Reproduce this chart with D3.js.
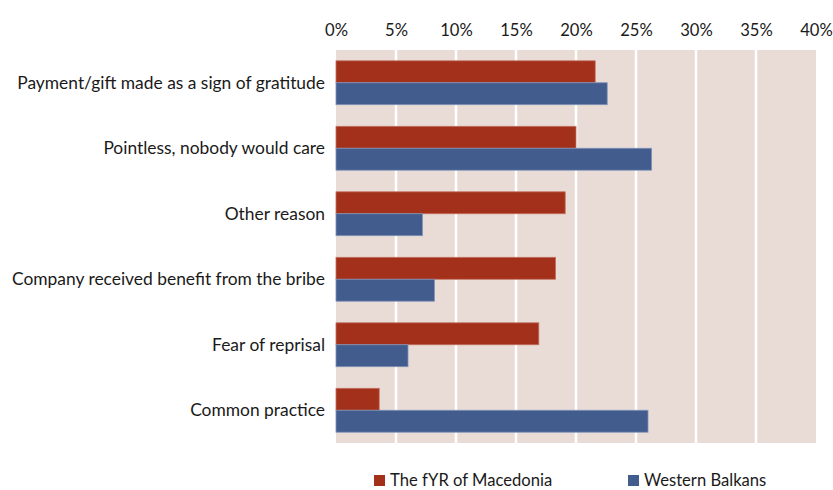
<!DOCTYPE html>
<html>
<head>
<meta charset="utf-8">
<script src="https://cdn.jsdelivr.net/npm/d3@7"></script>
<style>
body{margin:0;background:#fff;}
text{font-family:Lato,"Open Sans",sans-serif;fill:#1a1a1a;}
</style>
</head>
<body>
<div id="chart"></div>
<script>
var categories=["Payment/gift made as a sign of gratitude","Pointless, nobody would care","Other reason","Company received benefit from the bribe","Fear of reprisal","Common practice"];
var seriesNames=["The fYR of Macedonia","Western Balkans"];
var macedonia=[21.6,20.0,19.1,18.3,16.9,3.6];
var westernBalkans=[22.6,26.3,7.2,8.2,6.0,26.0];
var ticks=[0,5,10,15,20,25,30,35,40];
var colors=["#A3301A","#425C8E"];

var chartW=833,chartH=490;
var plotLeft=336,plotRight=816,plotTop=50,plotBottom=443;
var fontSize="16.6px";

var svg=d3.select("#chart").append("svg")
	.attr("width",chartW)
	.attr("height",chartH);

var x=d3.scaleLinear().domain([0,40]).range([plotLeft,plotRight]);
var y=d3.scaleBand().domain(categories).range([plotTop,plotBottom]).paddingInner(0.33).paddingOuter(0.165);
var ySub=d3.scaleBand().domain(seriesNames).range([0,y.bandwidth()]);

// plot background
svg.append("rect")
	.attr("x",plotLeft).attr("y",plotTop)
	.attr("width",plotRight-plotLeft).attr("height",plotBottom-plotTop)
	.style("fill","#E9DCD6");

// gridlines
svg.selectAll("line.grid")
	.data(ticks.slice(1,-1))
	.enter().append("line")
	.attr("class","grid")
	.attr("x1",function(d){return x(d);})
	.attr("x2",function(d){return x(d);})
	.attr("y1",plotTop).attr("y2",plotBottom)
	.style("stroke","#fff")
	.style("stroke-width","2.5px");

// top axis
var xAxis=d3.axisTop(x).tickValues(ticks).tickSize(0).tickFormat(function(d){return d+"%";});
var gx=svg.append("g").attr("transform","translate(0,"+(plotTop-16)+")").call(xAxis);
gx.select(".domain").remove();
gx.selectAll("text").style("font-size",fontSize).style("font-family","Lato,sans-serif").attr("dy","0.3em").style("fill","#1a1a1a");

var rows=categories.map(function(c,i){return {cat:c,vals:[macedonia[i],westernBalkans[i]]};});

var group=svg.selectAll("g.row")
	.data(rows)
	.enter().append("g")
	.attr("class","row")
	.attr("transform",function(d){return "translate(0,"+y(d.cat)+")";});

group.selectAll("rect")
	.data(function(d){return d.vals.map(function(v,j){return {v:v,s:seriesNames[j],j:j};});})
	.enter().append("rect")
	.attr("x",x(0))
	.attr("y",function(d){return ySub(d.s);})
	.attr("width",function(d){return x(d.v)-x(0);})
	.attr("height",ySub.bandwidth())
	.style("fill",function(d){return colors[d.j];})
	.style("stroke",function(d){return d.j==0?"#C27060":"#7F93B8";})
	.style("stroke-width","0.8px");

// category labels
svg.selectAll("text.cat")
	.data(categories)
	.enter().append("text")
	.attr("class","cat")
	.attr("x",plotLeft-11)
	.attr("y",function(d){return y(d)+y.bandwidth()/2;})
	.attr("dy","0.35em")
	.style("text-anchor","end")
	.style("font-size","17.4px")
	.text(function(d){return d;});

// legend
var legendX=[374,628];
var leg=svg.selectAll("g.legend")
	.data(seriesNames)
	.enter().append("g")
	.attr("class","legend")
	.attr("transform",function(d,i){return "translate("+legendX[i]+",475)";});
leg.append("rect").attr("width",11).attr("height",11)
	.style("fill",function(d,i){return colors[i];});
leg.append("text").attr("x",16).attr("y",6).attr("dy","0.3em")
	.style("font-size",fontSize)
	.text(function(d){return d;});
</script>
</body>
</html>
